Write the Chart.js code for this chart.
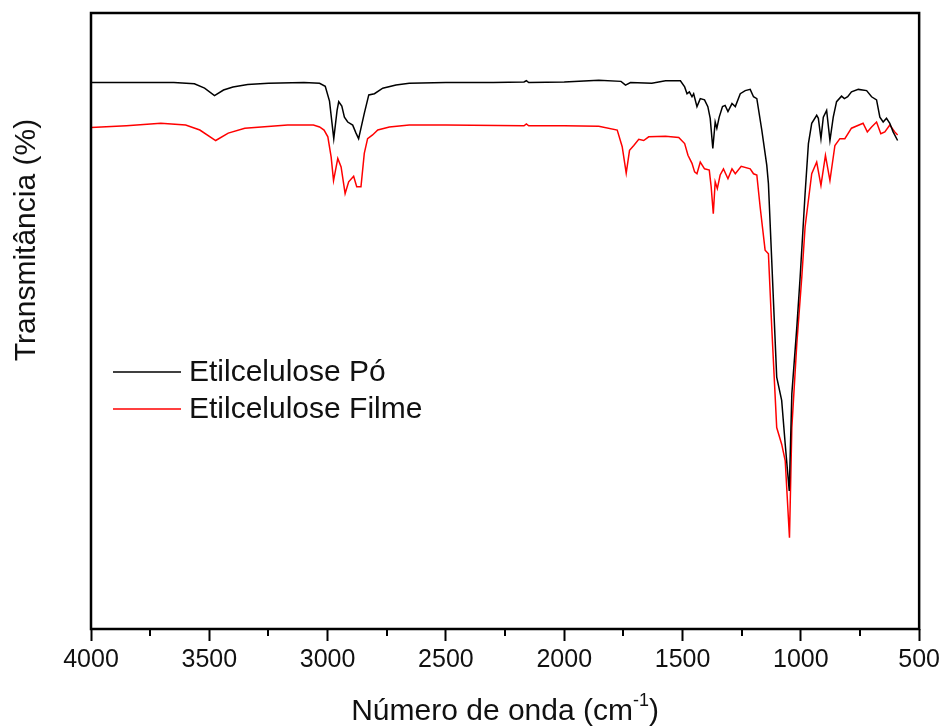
<!DOCTYPE html>
<html>
<head>
<meta charset="utf-8">
<title>FTIR Etilcelulose</title>
<script src="https://cdn.jsdelivr.net/npm/chart.js@4.4.1/dist/chart.umd.min.js"></script>
<style>
  html, body { margin: 0; padding: 0; background: #fff; }
  #wrap { width: 944px; height: 726px; }
</style>
</head>
<body>
<div id="wrap"><canvas id="ftir" width="944" height="726"></canvas></div>
<script>
// wavenumbers (cm-1) and transmittance (arbitrary units)
const wnPo = [4000, 3800, 3650, 3563, 3520, 3478, 3440, 3400, 3338, 3250, 3100, 3034, 3010, 2992, 2974, 2960, 2953, 2940, 2929, 2915, 2894, 2880, 2869, 2845, 2826, 2802, 2767, 2711, 2655, 2500, 2300, 2170, 2160, 2150, 2000, 1854, 1760, 1741, 1720, 1630, 1572, 1509, 1491, 1481, 1471, 1460, 1453, 1439, 1425, 1407, 1393, 1383, 1372, 1362, 1355, 1345, 1331, 1320, 1308, 1291, 1277, 1256, 1235, 1214, 1200, 1186, 1165, 1144, 1137, 1123, 1102, 1081, 1066, 1049, 1038, 1017, 1003, 982, 968, 954, 933, 926, 915, 905, 891, 877, 863, 849, 828, 816, 802, 786, 757, 722, 701, 680, 666, 652, 638, 624, 610, 591];
const tPo = [88.7, 88.7, 88.7, 88.5, 87.8, 86.6, 87.5, 88.0, 88.4, 88.6, 88.7, 88.6, 88.1, 85.7, 79.6, 84.2, 85.6, 84.9, 83.1, 82.3, 81.8, 80.5, 79.6, 83.7, 86.7, 86.9, 87.8, 88.3, 88.6, 88.7, 88.7, 88.8, 89.0, 88.7, 88.8, 89.1, 88.9, 88.3, 88.7, 88.6, 89.0, 89.0, 88.0, 86.9, 87.2, 86.4, 86.9, 84.8, 86.1, 85.9, 84.8, 82.9, 78.0, 82.3, 81.3, 83.1, 84.8, 85.0, 84.0, 85.3, 84.8, 86.9, 87.4, 87.6, 86.4, 86.1, 81.0, 75.3, 72.3, 59.8, 40.9, 37.1, 30.0, 22.4, 38.2, 49.0, 57.1, 70.7, 78.8, 82.1, 83.4, 82.9, 79.6, 83.1, 84.2, 79.3, 83.1, 85.6, 86.5, 86.1, 86.4, 87.2, 87.6, 87.4, 86.4, 85.9, 83.1, 82.3, 82.9, 82.1, 80.7, 79.3];

const wnFilme = [4000, 3850, 3705, 3600, 3540, 3473, 3420, 3350, 3169, 3060, 3034, 3015, 2999, 2985, 2975, 2957, 2943, 2926, 2911, 2890, 2877, 2859, 2845, 2831, 2810, 2788, 2739, 2655, 2500, 2170, 2160, 2150, 2000, 1854, 1776, 1755, 1738, 1724, 1706, 1685, 1664, 1643, 1572, 1516, 1491, 1477, 1460, 1449, 1439, 1425, 1407, 1387, 1379, 1370, 1362, 1353, 1341, 1327, 1308, 1291, 1277, 1252, 1214, 1200, 1186, 1172, 1151, 1137, 1123, 1102, 1081, 1066, 1048, 1038, 1017, 996, 982, 968, 954, 933, 915, 896, 877, 856, 835, 814, 786, 737, 719, 701, 680, 662, 645, 624, 603, 591];
const tFilme = [81.4, 81.7, 82.1, 81.8, 81.0, 79.3, 80.5, 81.3, 81.8, 81.8, 81.5, 81.0, 79.9, 76.6, 72.8, 76.4, 75.0, 70.7, 72.6, 73.5, 71.8, 71.8, 77.2, 79.6, 80.2, 81.0, 81.5, 81.8, 81.8, 81.7, 82.0, 81.7, 81.7, 81.6, 81.0, 78.3, 74.0, 77.7, 78.5, 79.5, 79.3, 79.9, 80.0, 79.8, 78.8, 76.9, 75.6, 74.2, 73.9, 75.8, 74.7, 74.5, 71.8, 67.4, 72.6, 71.5, 73.7, 74.7, 73.1, 74.7, 73.9, 75.1, 74.7, 73.9, 73.7, 68.5, 61.5, 60.9, 49.0, 32.7, 30.0, 27.3, 14.8, 32.7, 46.3, 57.1, 65.3, 69.6, 73.9, 75.8, 72.0, 76.9, 72.8, 78.5, 79.6, 79.6, 81.3, 82.1, 80.7, 81.5, 82.3, 80.4, 80.7, 81.8, 80.7, 80.2];

const seriesNames = ['Etilcelulose Pó', 'Etilcelulose Filme'];
const xMajorTicks = [4000, 3500, 3000, 2500, 2000, 1500, 1000, 500];
const xMinorTicks = [3750, 3250, 2750, 2250, 1750, 1250, 750];

const FONT = "'Liberation Sans', Arial, sans-serif";

function toPoints(xs, ys) {
  return xs.map((x, i) => ({ x: x, y: ys[i] }));
}

// frame + minor ticks + axis titles + legend
const decor = {
  id: 'decor',
  afterDraw(chart) {
    const ctx = chart.ctx;
    const a = chart.chartArea;
    const xs = chart.scales.x;
    ctx.save();
    ctx.strokeStyle = '#000';
    ctx.lineWidth = 2.5;
    ctx.strokeRect(a.left, a.top, a.right - a.left, a.bottom - a.top);

    // minor ticks
    ctx.lineWidth = 2;
    xMinorTicks.forEach(v => {
      const px = Math.round(xs.getPixelForValue(v));
      ctx.beginPath();
      ctx.moveTo(px, a.bottom);
      ctx.lineTo(px, a.bottom + 7);
      ctx.stroke();
    });

    ctx.fillStyle = '#111';
    // x title with superscript
    const mid = (a.left + a.right) / 2;
    const base = 720;
    ctx.font = '30px ' + FONT;
    ctx.textBaseline = 'alphabetic';
    const t1 = 'Número de onda (cm';
    const t3 = ')';
    const w1 = ctx.measureText(t1).width;
    const w3 = ctx.measureText(t3).width;
    ctx.font = '18px ' + FONT;
    const w2 = ctx.measureText('-1').width;
    const start = mid - (w1 + w2 + w3) / 2;
    ctx.font = '30px ' + FONT;
    ctx.textAlign = 'left';
    ctx.fillText(t1, start, base);
    ctx.font = '18px ' + FONT;
    ctx.fillText('-1', start + w1, base - 14);
    ctx.font = '30px ' + FONT;
    ctx.fillText(t3, start + w1 + w2, base);

    // y title
    ctx.save();
    ctx.translate(35, 240);
    ctx.rotate(-Math.PI / 2);
    ctx.textAlign = 'center';
    ctx.font = '30px ' + FONT;
    ctx.fillText('Transmitância (%)', 0, 0);
    ctx.restore();

    // legend
    const rows = [372, 409];
    chart.data.datasets.forEach((ds, i) => {
      ctx.strokeStyle = ds.borderColor;
      ctx.lineWidth = 1.5;
      ctx.beginPath();
      ctx.moveTo(113, rows[i]);
      ctx.lineTo(181, rows[i]);
      ctx.stroke();
      ctx.fillStyle = '#111';
      ctx.font = '30px ' + FONT;
      ctx.textAlign = 'left';
      ctx.textBaseline = 'middle';
      ctx.fillText(ds.label, 189, rows[i] + 1);
    });
    ctx.restore();
  }
};

new Chart(document.getElementById('ftir'), {
  type: 'line',
  data: {
    datasets: [{
      label: seriesNames[0],
      data: toPoints(wnPo, tPo),
      borderColor: '#000000',
      borderWidth: 1.5,
      pointRadius: 0,
      tension: 0
    }, {
      label: seriesNames[1],
      data: toPoints(wnFilme, tFilme),
      borderColor: '#ff0000',
      borderWidth: 1.5,
      pointRadius: 0,
      tension: 0
    }]
  },
  options: {
    responsive: false,
    animation: false,
    layout: {
      padding: { left: 91, right: 19, top: 13, bottom: 47 }
    },
    plugins: {
      legend: { display: false },
      tooltip: { enabled: false }
    },
    scales: {
      x: {
        type: 'linear',
        reverse: true,
        min: 500,
        max: 4000,
        afterBuildTicks: (scale) => {
          scale.ticks = xMajorTicks.map(v => ({ value: v }));
        },
        grid: {
          display: true,
          drawOnChartArea: false,
          drawTicks: true,
          tickLength: 12,
          tickWidth: 2,
          tickColor: '#000'
        },
        border: { display: false },
        ticks: {
          color: '#111',
          padding: 4,
          maxRotation: 0,
          autoSkip: false,
          font: { family: FONT, size: 25 },
          callback: (v) => String(v)
        }
      },
      y: {
        display: false,
        min: 0,
        max: 100
      }
    }
  },
  plugins: [decor]
});
</script>
</body>
</html>
